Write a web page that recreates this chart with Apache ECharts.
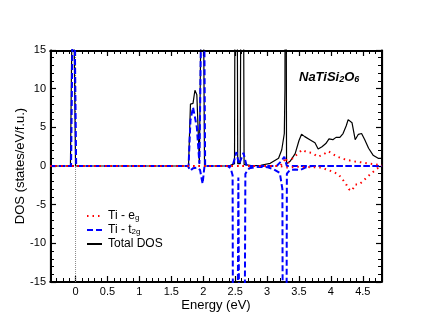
<!DOCTYPE html>
<html>
<head>
<meta charset="utf-8">
<script src="https://cdn.jsdelivr.net/npm/echarts@6.0.0/dist/echarts.min.js"></script>
<style>
  html, body { margin: 0; padding: 0; background: #fff; }
  #main { width: 430px; height: 332px; }
</style>
</head>
<body>
<div id="main"></div>
<script>
// tick labels
var xTicks = [0, 0.5, 1, 1.5, 2, 2.5, 3, 3.5, 4, 4.5];
var yTicks = [-15, -10, -5, 0, 5, 10, 15];

// Fermi level reference line
var fermiLine = [[0, -15], [0, 15]];

// Total DOS [energy, states]
var totalDos = [
  [-0.4, 0], [-0.08, 0], [-0.04, 30], [0, 0], [1.77, 0], [1.80, 8.0], [1.84, 8.1],
  [1.87, 9.8], [1.90, 9.2], [1.94, 0.3], [1.99, 40], [2.02, 0], [2.40, 0], [2.49, 0.3],
  [2.515, 80], [2.54, 0.3], [2.58, 0.3], [2.61, 80], [2.64, 0.2], [2.75, 0.05], [2.9, 0.1],
  [3.05, 0.35], [3.18, 1.0], [3.23, 2.1], [3.27, 4.2], [3.28, 10], [3.29, 60], [3.305, 0.3],
  [3.33, 0.3], [3.36, 0.6], [3.44, 1.6], [3.50, 3.3], [3.54, 4.1], [3.59, 3.8], [3.67, 3.4],
  [3.75, 3.0], [3.80, 2.2], [3.86, 2.5], [3.92, 2.9], [3.97, 3.5], [4.03, 3.4], [4.08, 3.7],
  [4.14, 3.7], [4.19, 4.2], [4.24, 5.2], [4.27, 6.0], [4.33, 5.6], [4.38, 3.4], [4.43, 4.1],
  [4.48, 4.2], [4.53, 3.4], [4.59, 2.3], [4.66, 1.4], [4.74, 1.0], [4.8, 1.0]
];

// Ti t2g, spin up / spin down
var t2gUp = [
  [-0.4, 0], [-0.07, 0], [-0.03, 30], [0.01, 0], [1.77, 0], [1.80, 5.9], [1.84, 7.6],
  [1.87, 7.5], [1.90, 5.0], [1.94, 0.3], [2.0, 40], [2.03, 0], [2.46, 0], [2.52, 1.8],
  [2.56, 0.2], [2.63, 1.7], [2.68, 0], [3.15, 0], [3.22, 0.6], [3.27, 1.2], [3.31, 0], [4.8, 0]
];
var t2gDown = [
  [-0.4, 0], [1.76, 0], [1.80, -0.6], [1.84, -0.3], [1.90, -0.2], [1.95, -0.5], [1.99, -2.3],
  [2.02, 0], [2.38, 0], [2.43, -0.3], [2.46, -1.2], [2.47, -40], [2.53, -40], [2.55, -1.5],
  [2.565, -1.5], [2.575, -40], [2.64, -40], [2.66, -1.0], [2.72, -0.3], [2.85, -0.1],
  [3.0, -0.15], [3.10, -0.4], [3.20, -0.9], [3.24, -3], [3.25, -40], [3.30, -40], [3.31, -1.0],
  [3.36, -0.5], [3.44, -0.45], [3.52, -0.5], [3.60, -0.2], [3.7, 0], [4.8, 0]
];

// Ti eg, spin up / spin down
var egUp = [
  [-0.4, 0], [3.2, 0], [3.26, 0.5], [3.29, 1.1], [3.32, 0.3], [3.4, 1.0], [3.48, 1.6],
  [3.55, 2.1], [3.62, 1.8], [3.70, 1.7], [3.80, 1.2], [3.88, 1.5], [3.96, 1.9], [4.04, 1.5],
  [4.10, 1.2], [4.20, 0.9], [4.30, 0.7], [4.40, 0.55], [4.50, 0.45], [4.60, 0.3], [4.70, 0.2],
  [4.8, 0.1]
];
var egDown = [
  [-0.4, 0], [3.2, 0], [3.30, -0.2], [3.5, -0.1], [3.85, -0.2], [3.95, -0.5], [4.05, -0.8],
  [4.12, -1.1], [4.18, -1.7], [4.24, -2.4], [4.28, -3.0], [4.33, -3.2], [4.38, -2.4],
  [4.44, -2.4], [4.51, -1.9], [4.57, -1.4], [4.64, -0.9], [4.72, -0.35], [4.8, 0]
];

var FONT = 'Liberation Sans, Arial, sans-serif';
var BLUE = '#0000ff', RED = '#ff0000';
var PLOT_W = 332, PLOT_H = 232; // grid size

function fmtX(v) { return String(Math.round(v * 10) / 10); }

function frame() {
  return { show: true, onZero: false, lineStyle: { color: '#000', width: 1.2 } };
}

// ticks pointing into the plot: outward ticks from an axis moved just inside the opposite edge
// (onZeroAxisIndex points at a hidden helper axis that has no zero, so they stay put)
function xTickAxes(pos, off) {
  return [{
    type: 'value', position: pos, offset: off, min: -0.4, max: 4.8,
    axisLine: { show: true, onZeroAxisIndex: 4, lineStyle: { color: '#000', width: 1 } },
    axisTick: { show: true, length: 5, customValues: xTicks, lineStyle: { color: '#000', width: 1.2 } },
    axisLabel: { show: false }, splitLine: { show: false }
  }, {
    type: 'value', position: pos, offset: off, min: -0.4, max: 4.8, interval: 0.1,
    axisLine: { show: true, onZeroAxisIndex: 4, lineStyle: { color: '#000', width: 1 } },
    axisTick: { show: true, length: 3, lineStyle: { color: '#000', width: 1 } },
    axisLabel: { show: false }, splitLine: { show: false }
  }];
}

function yTickAxis(pos, off) {
  return {
    type: 'value', position: pos, offset: off, min: -15, max: 15, interval: 5,
    axisLine: { show: true, onZeroAxisIndex: 6, lineStyle: { color: '#000', width: 1 } },
    axisTick: { show: true, length: 5, lineStyle: { color: '#000', width: 1.2 } },
    minorTick: { show: true, splitNumber: 5, length: 3, lineStyle: { color: '#000', width: 1 } },
    axisLabel: { show: false }, splitLine: { show: false }
  };
}

var xAxes = [{
  type: 'value', position: 'bottom', min: -0.4, max: 4.8,
  axisLine: frame(),
  axisTick: { show: false },
  axisLabel: { customValues: xTicks, formatter: fmtX, fontSize: 11, color: '#000', fontFamily: FONT, margin: 4 },
  splitLine: { show: false },
  name: 'Energy (eV)', nameLocation: 'middle', nameGap: 17, nameMoveOverlap: false,
  nameTextStyle: { fontSize: 13, color: '#000', fontFamily: FONT }
}, {
  type: 'value', position: 'top', min: -0.4, max: 4.8,
  axisLine: frame(), axisTick: { show: false }, axisLabel: { show: false }, splitLine: { show: false }
}].concat(xTickAxes('top', -(PLOT_H - 1)), xTickAxes('bottom', -(PLOT_H - 1)), [{
  type: 'value', position: 'bottom', min: 1, max: 2, show: false
}]);

var yAxes = [{
  type: 'value', position: 'left', min: -15, max: 15, interval: 5,
  axisLine: frame(),
  axisTick: { show: false },
  axisLabel: { customValues: yTicks, fontSize: 11, color: '#000', fontFamily: FONT, margin: 4 },
  splitLine: { show: false },
  name: 'DOS (states/eV/f.u.)', nameLocation: 'middle', nameGap: 23, nameMoveOverlap: false,
  nameTextStyle: { fontSize: 13, color: '#000', fontFamily: FONT }
}, {
  type: 'value', position: 'right', min: -15, max: 15, interval: 5,
  axisLine: frame(), axisTick: { show: false }, axisLabel: { show: false }, splitLine: { show: false }
}, yTickAxis('right', -(PLOT_W - 1)), yTickAxis('left', -(PLOT_W - 1)), {
  type: 'value', position: 'left', min: 1, max: 2, show: false
}];

var subRich = { s: { fontSize: 8, fontFamily: FONT, color: '#000', verticalAlign: 'bottom', lineHeight: 6 } };

function lineSeries(name, data, color, width, type) {
  return {
    name: name, type: 'line', data: data, symbol: 'none', showSymbol: false,
    xAxisIndex: 0, yAxisIndex: 0, clip: true,
    lineStyle: { color: color, width: width, type: type },
    itemStyle: { color: color }
  };
}

var chart = echarts.init(document.getElementById('main'));
var fermiSeries = lineSeries('Fermi', fermiLine, '#888', 1, 'dotted');
fermiSeries.silent = true;

chart.setOption({
  animation: false,
  grid: { left: 50, right: 48, top: 50, bottom: 50 },
  title: {
    text: 'NaTiSi{s|2}O{s|6}', left: 294, top: 66,
    textStyle: {
      fontSize: 13, fontWeight: 'bold', fontStyle: 'italic', color: '#000', fontFamily: FONT,
      rich: { s: { fontSize: 9, fontWeight: 'bold', fontStyle: 'italic', color: '#000', fontFamily: FONT, verticalAlign: 'bottom', lineHeight: 4 } }
    }
  },
  legend: {
    orient: 'vertical', left: 81, top: 205, itemWidth: 15, itemHeight: 10, itemGap: 2,
    data: ['Ti - eg', 'Ti - t2g', 'Total DOS'],
    itemStyle: { opacity: 0 },
    formatter: function (n) {
      if (n === 'Ti - eg') return 'Ti - e{s|g}';
      if (n === 'Ti - t2g') return 'Ti - t{s|2g}';
      return n;
    },
    textStyle: { fontSize: 12, color: '#000', fontFamily: FONT, padding: [0, 0, 0, 1], rich: subRich }
  },
  xAxis: xAxes,
  yAxis: yAxes,
  series: [
    fermiSeries,
    lineSeries('Total DOS', totalDos, '#000', 1.2, 'solid'),
    lineSeries('Ti - t2g', t2gUp, BLUE, 2, [6, 3]),
    lineSeries('Ti - t2g', t2gDown, BLUE, 2, [6, 3]),
    lineSeries('Ti - eg', egUp, RED, 2, [1.5, 4]),
    lineSeries('Ti - eg', egDown, RED, 2, [1.5, 4])
  ]
});
</script>
</body>
</html>
